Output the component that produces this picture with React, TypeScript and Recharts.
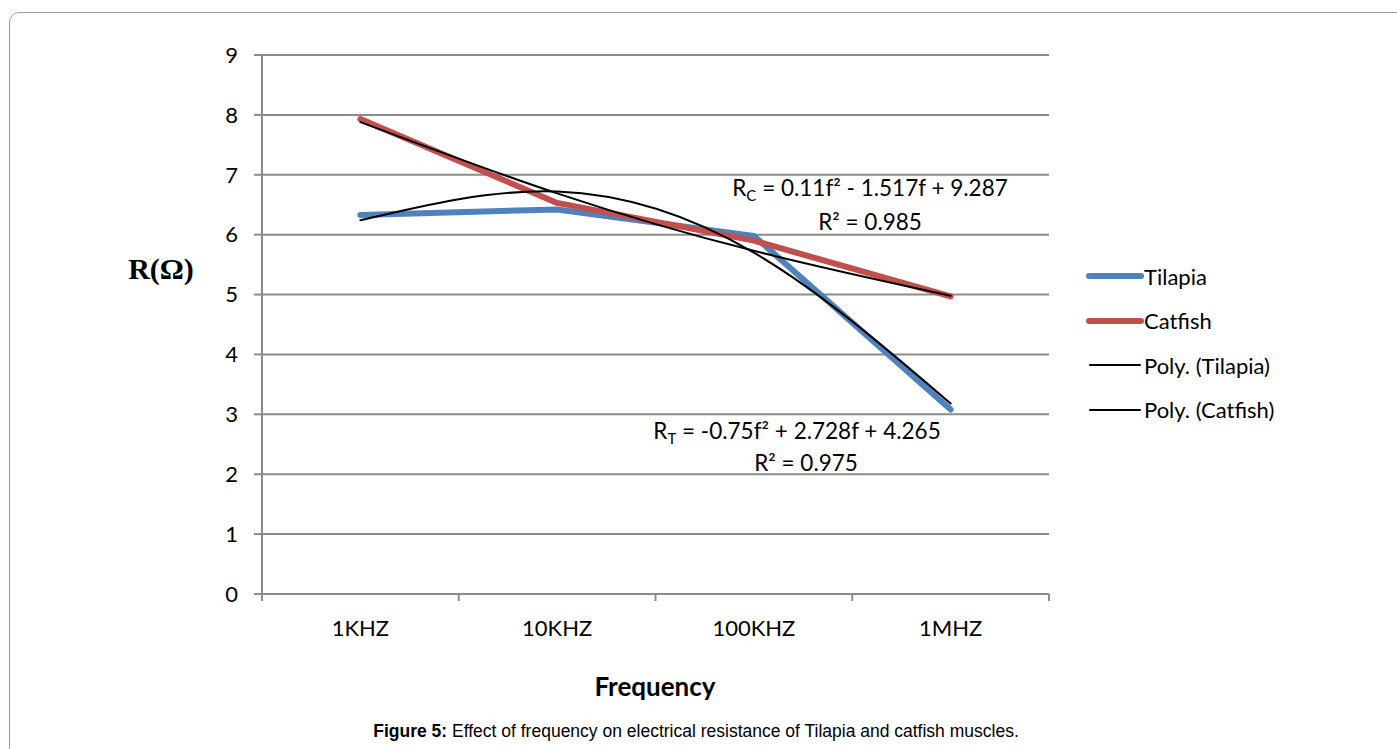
import React from 'react';
import { LineChart, Line, XAxis, YAxis, CartesianGrid, Legend } from 'recharts';

// Frequency categories and measured resistance (Ω)
const frequencies = ['1KHZ', '10KHZ', '100KHZ', '1MHZ'];
const tilapia = [6.33, 6.42, 5.98, 3.08];
const catfish = [7.93, 6.53, 5.9, 4.97];

// Second-order polynomial trend values at each category (f = 1..4)
const tilapiaPoly = [6.24, 6.72, 5.7, 3.18];
const catfishPoly = [7.88, 6.69, 5.73, 4.98];

const yTicks = [0, 1, 2, 3, 4, 5, 6, 7, 8, 9];

const seriesInfo = [
  { key: 'tilapia', name: 'Tilapia', color: '#4F81BD', width: 6 },
  { key: 'catfish', name: 'Catfish', color: '#C0504D', width: 6 },
  { key: 'tilapiaPoly', name: 'Poly. (Tilapia)', color: '#000000', width: 2 },
  { key: 'catfishPoly', name: 'Poly. (Catfish)', color: '#000000', width: 2 },
];

const data = frequencies.map((freq, i) => ({
  freq,
  tilapia: tilapia[i],
  catfish: catfish[i],
  tilapiaPoly: tilapiaPoly[i],
  catfishPoly: catfishPoly[i],
}));

const FONT = 'Lato, "Open Sans", sans-serif';
const GRID = '#8c8c8c';
const X_TICK_SIZE = 6;
const X_TICK_MARGIN = 20;
const EDGE_TICK = 7;

// Category label centred in its band, with tick marks on the band boundaries
const CategoryTick = (props: any) => {
  const { x, y, payload, index, visibleTicksCount } = props;
  const half = payload && typeof payload.offset === 'number' ? payload.offset : 0;
  const axisY = y - X_TICK_SIZE - X_TICK_MARGIN;
  const edges = [x - half];
  if (index === visibleTicksCount - 1) edges.push(x + half);
  return (
    <g>
      {half > 0 &&
        edges.map((ex, i) => (
          <line
            key={i}
            x1={ex}
            x2={ex}
            y1={axisY}
            y2={axisY + EDGE_TICK}
            stroke={GRID}
            strokeWidth={2}
          />
        ))}
      <text
        x={x}
        y={y}
        dy="0.71em"
        textAnchor="middle"
        fill="#000"
        fontSize={22}
        fontFamily={FONT}
      >
        {payload.value}
      </text>
    </g>
  );
};

const renderLegend = () => (
  <div style={{ fontFamily: FONT, fontSize: 22, color: '#000' }}>
    {seriesInfo.map((s) => (
      <div key={s.key} style={{ display: 'flex', alignItems: 'center', height: 44.5 }}>
        <svg width={58} height={10}>
          <line
            x1={s.width > 3 ? 3 : 4}
            x2={s.width > 3 ? 55 : 54}
            y1={5}
            y2={5}
            stroke={s.color}
            strokeWidth={s.width}
            strokeLinecap="round"
          />
        </svg>
        <span>{s.name}</span>
      </div>
    ))}
  </div>
);

const textStyle: React.CSSProperties = {
  position: 'absolute',
  fontFamily: FONT,
  fontSize: 22.5,
  color: '#000',
  whiteSpace: 'nowrap',
  transform: 'translate(-50%, -50%)',
  lineHeight: 1,
};

export default function App() {
  return (
    <div
      style={{
        position: 'fixed',
        left: 0,
        top: 0,
        width: 1397,
        height: 749,
        overflow: 'hidden',
        background: '#fff',
      }}
    >
      <div
        style={{
          position: 'absolute',
          left: 9,
          top: 12,
          width: 1420,
          height: 800,
          border: '1.5px solid #9a9a9a',
          borderRadius: 10,
          boxSizing: 'border-box',
        }}
      />
      <div style={{ position: 'absolute', left: 0, top: 0 }}>
        <LineChart
          width={1397}
          height={749}
          data={data}
          margin={{ top: 55, right: 348, bottom: 125, left: 202 }}
        >
          <CartesianGrid vertical={false} stroke={GRID} strokeWidth={2} />
          <XAxis
            dataKey="freq"
            scale="band"
            tickLine={false}
            tickSize={X_TICK_SIZE}
            tickMargin={X_TICK_MARGIN}
            axisLine={{ stroke: GRID, strokeWidth: 2 }}
            tick={<CategoryTick />}
            interval={0}
            height={30}
          />
          <YAxis
            domain={[0, 9]}
            ticks={yTicks}
            width={60}
            tickSize={8}
            tickMargin={16}
            stroke={GRID}
            axisLine={{ stroke: GRID, strokeWidth: 2 }}
            tickLine={{ stroke: GRID, strokeWidth: 2 }}
            tick={{ fill: '#000', fontSize: 22, fontFamily: FONT }}
            interval={0}
          />
          <Legend
            layout="vertical"
            align="center"
            verticalAlign="middle"
            content={renderLegend}
            wrapperStyle={{ left: 1086, top: 254, width: 260 }}
          />
          {seriesInfo.map((s) => (
            <Line
              key={s.key}
              dataKey={s.key}
              name={s.name}
              type={s.width > 3 ? 'linear' : 'natural'}
              stroke={s.color}
              strokeWidth={s.width}
              strokeLinejoin="round"
              strokeLinecap="round"
              dot={false}
              activeDot={false}
              isAnimationActive={false}
            />
          ))}
        </LineChart>
      </div>

      {/* Trendline equations */}
      <div style={{ ...textStyle, left: 870, top: 190 }}>
        R<sub style={{ fontSize: 15 }}>C</sub> = 0.11f² - 1.517f + 9.287
      </div>
      <div style={{ ...textStyle, left: 870, top: 222 }}>R² = 0.985</div>
      <div style={{ ...textStyle, left: 797, top: 433 }}>
        R<sub style={{ fontSize: 15 }}>T</sub> = -0.75f² + 2.728f + 4.265
      </div>
      <div style={{ ...textStyle, left: 806, top: 463 }}>R² = 0.975</div>

      {/* Axis titles */}
      <div
        style={{
          ...textStyle,
          left: 161,
          top: 269,
          fontFamily: '"Liberation Serif", "Times New Roman", serif',
          fontWeight: 'bold',
          fontSize: 30,
        }}
      >
        R(Ω)
      </div>
      <div style={{ ...textStyle, left: 655, top: 686, fontWeight: 'bold', fontSize: 26 }}>
        Frequency
      </div>

      {/* Caption */}
      <div
        style={{
          ...textStyle,
          left: 696,
          top: 732,
          fontFamily: '"Liberation Sans", Arial, sans-serif',
          fontSize: 17.5,
        }}
      >
        <b>Figure 5:</b> Effect of frequency on electrical resistance of Tilapia and catfish muscles.
      </div>
    </div>
  );
}
